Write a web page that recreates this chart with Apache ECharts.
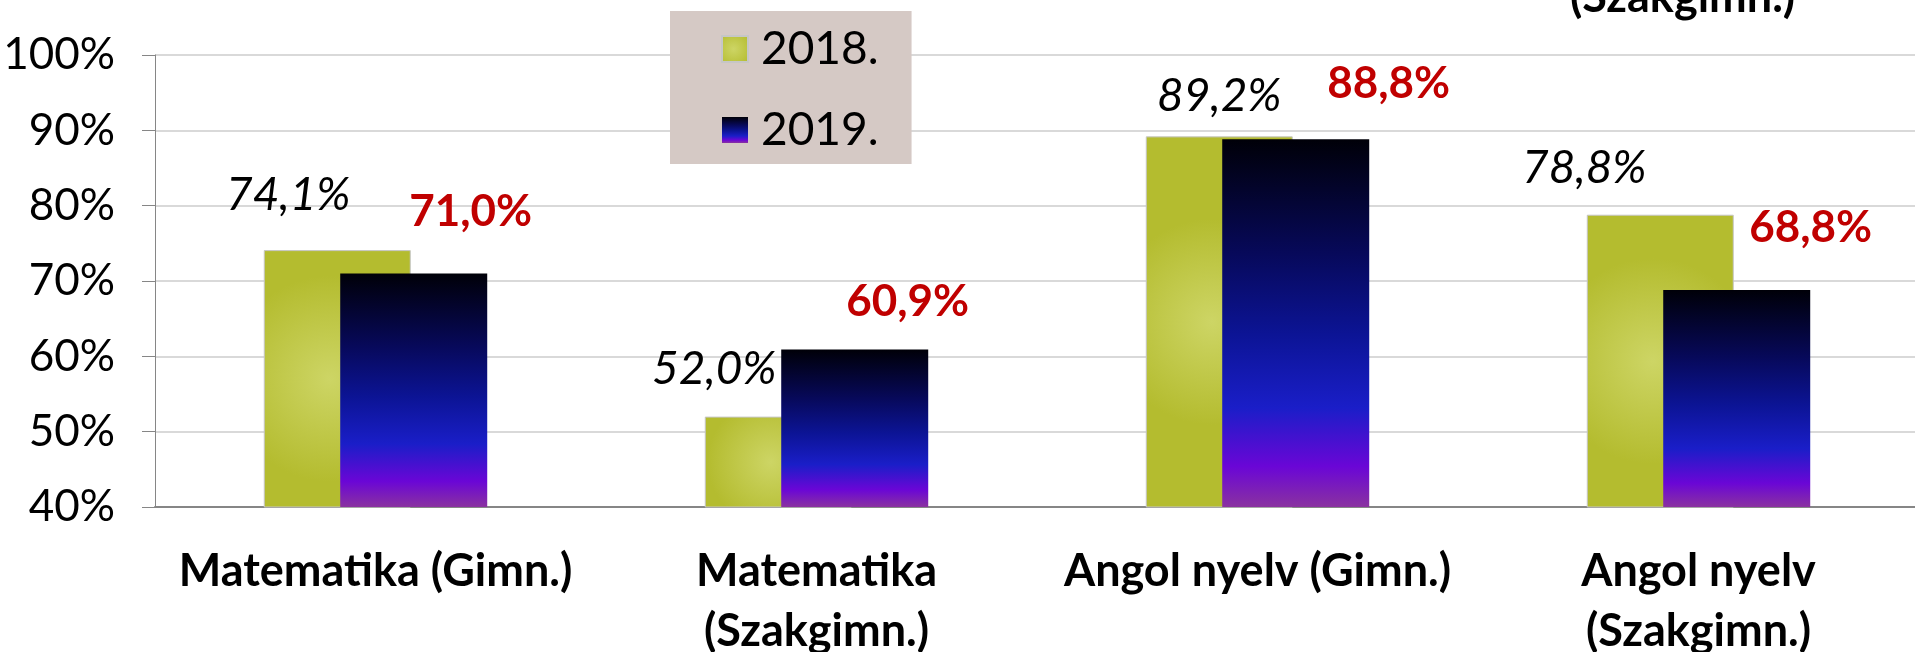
<!DOCTYPE html>
<html>
<head>
<meta charset="utf-8">
<script src="https://cdn.jsdelivr.net/npm/echarts@6/dist/echarts.min.js"></script>
<style>
  html, body { margin: 0; padding: 0; background: #fff; }
  #chart { width: 1915px; height: 652px; }
</style>
</head>
<body>
<div id="chart"></div>
<script>
// Adatok
var categories = ['Matematika (Gimn.)', 'Matematika\n(Szakgimn.)', 'Angol nyelv (Gimn.)', 'Angol nyelv\n(Szakgimn.)'];
var seriesNames = ['2018.', '2019.'];
var values2018 = [74.1, 52.0, 89.2, 78.8];
var values2019 = [71.0, 60.9, 88.8, 68.8];

// Feliratok eltolása (kézzel igazítva, mint az eredetin)
var nudge2018 = [[-49, -35], [-64, -27], [0, -20], [-76, -27]];
var nudge2019 = [[57, -42], [53, -28], [93, -36], [74, -42]];

var FONT = 'Lato';

function pct(v)
{
    return v.toFixed(1).replace('.', ',') + '%';
}

function withNudge(values, nudge)
{
    return values.map(function (v, i) {
        return { value: v, label: { offset: nudge[i] } };
    });
}

var greenFill = new echarts.graphic.RadialGradient(0.45, 0.5, 0.7, [
    { offset: 0, color: '#cdd565' },
    { offset: 1, color: '#b4bc2f' }
]);

var blueFill = new echarts.graphic.LinearGradient(0, 0, 0, 1, [
    { offset: 0, color: '#000008' },
    { offset: 0.31, color: '#07095a' },
    { offset: 0.53, color: '#0c1495' },
    { offset: 0.73, color: '#1a1ec8' },
    { offset: 0.89, color: '#6a06d6' },
    { offset: 1, color: '#8a32a0' }
]);

var chart = echarts.init(document.getElementById('chart'));

chart.setOption({
    animation: false,
    textStyle: { fontFamily: FONT },
    grid: { left: 155, right: -4, top: 55, bottom: 145, containLabel: false, outerBoundsMode: 'none' },
    legend: {
        orient: 'vertical',
        left: 670,
        top: 11,
        padding: [15, 33, 11, 51],
        itemGap: 35,
        itemWidth: 26,
        itemHeight: 26,
        icon: 'rect',
        backgroundColor: '#d5c9c5',
        textStyle: { fontFamily: FONT, fontSize: 46, color: '#000', lineHeight: 40, padding: [0, 0, 0, 8] },
        data: seriesNames
    },
    xAxis: {
        type: 'category',
        data: categories,
        axisLine: { lineStyle: { color: '#868686', width: 2 } },
        axisTick: { length: 15, lineStyle: { color: '#868686' } },
        axisLabel: {
            margin: 34,
            fontFamily: FONT,
            fontSize: 45,
            fontWeight: 'bold',
            color: '#000',
            lineHeight: 60,
            interval: 0
        }
    },
    yAxis: {
        type: 'value',
        min: 40,
        max: 100,
        interval: 10,
        axisLine: { show: true, lineStyle: { color: '#868686' } },
        axisTick: { show: true, length: 13, lineStyle: { color: '#868686' } },
        axisLabel: {
            margin: 40,
            fontFamily: FONT,
            fontSize: 44,
            color: '#000',
            formatter: '{value}%'
        },
        splitLine: { lineStyle: { color: '#d9d9d9', width: 2 } }
    },
    series: [
        {
            name: seriesNames[0],
            type: 'bar',
            barWidth: 147,
            barGap: '-48%',
            data: withNudge(values2018, nudge2018),
            itemStyle: { color: greenFill, borderColor: '#c6c6c6', borderWidth: 1 },
            label: {
                show: true,
                position: 'top',
                distance: 0,
                fontFamily: FONT,
                fontSize: 46,
                fontStyle: 'italic',
                lineHeight: 40,
                color: '#000',
                formatter: function (p) { return pct(p.value); }
            }
        },
        {
            name: seriesNames[1],
            type: 'bar',
            barWidth: 147,
            barGap: '-48%',
            data: withNudge(values2019, nudge2019),
            itemStyle: { color: blueFill },
            label: {
                show: true,
                position: 'top',
                distance: 0,
                fontFamily: FONT,
                fontSize: 44,
                fontWeight: 'bold',
                lineHeight: 40,
                color: '#c00000',
                formatter: function (p) { return pct(p.value); }
            }
        }
    ],
    graphic: [
        {
            // az előző dia levágott felirata a kép tetején
            type: 'text',
            left: 1698 - 128,
            top: -25,
            style: {
                text: '(Szakgimn.)',
                font: 'bold 45px Lato',
                fill: '#000'
            }
        }
    ]
});
</script>
</body>
</html>
